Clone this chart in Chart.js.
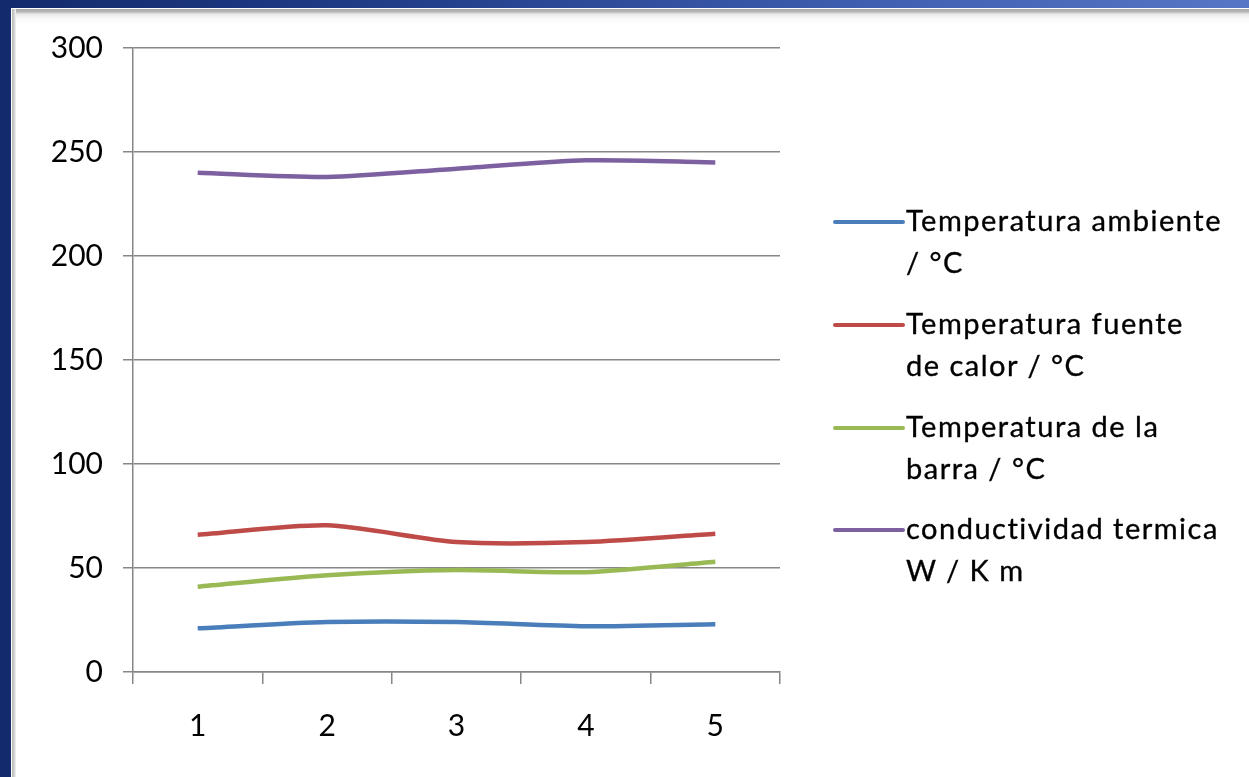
<!DOCTYPE html>
<html>
<head>
<meta charset="utf-8">
<script src="https://cdn.jsdelivr.net/npm/chart.js@4.4.1/dist/chart.umd.min.js"></script>
<style>
  html, body { margin: 0; padding: 0; }
  body {
    width: 1249px; height: 777px; overflow: hidden; position: relative;
    background: linear-gradient(90deg, #132a6c 0%, #23408c 35%, #3f5fb0 70%, #5676c6 100%);
    font-family: Lato, "Open Sans", sans-serif;
  }
  #panel {
    position: absolute; left: 11px; top: 8px; width: 1238px; height: 769px;
    background: #fff;
  }
  #edgeTop {
    position: absolute; left: 1px; top: 1px; right: 0; height: 16px;
    background: linear-gradient(180deg, #a9a9a9 0px, #b8b8b8 3px, #e9e9e9 5px, #fafafa 10px, #ffffff 16px);
  }
  #edgeLeft {
    position: absolute; left: 1px; top: 1px; bottom: 0; width: 4px;
    background: linear-gradient(90deg, #b5b5b5 0px, #cfcfcf 2px, #f3f3f3 4px);
  }
  #wrap { position: absolute; left: 0; top: 2px; width: 1238px; height: 767px; }
  #legend {
    position: absolute; left: 0; top: 0; width: 1249px; height: 777px; pointer-events: none;
  }
  .item { position: absolute; left: 833px; }
  .swatch { position: absolute; left: 0; width: 72px; height: 4px; border-radius: 2px; }
  .txt {
    position: absolute; left: 73px; white-space: nowrap; color: #000;
    font-family: Lato, sans-serif; font-size: 29px; letter-spacing: 1.5px; line-height: 42px;
    -webkit-text-stroke: 0.35px #000;
  }
</style>
</head>
<body>
<div id="panel">
  <div id="edgeTop"></div>
  <div id="edgeLeft"></div>
  <div id="wrap"><canvas id="c" width="1238" height="767"></canvas></div>
</div>
<div id="legend"></div>
<script>
const categories = ["1", "2", "3", "4", "5"];
const seriesNames = [
  "Temperatura ambiente / °C",
  "Temperatura fuente de calor / °C",
  "Temperatura de la barra / °C",
  "conductividad termica W / K m"
];
const legendLines = [
  ["Temperatura ambiente", "/ °C"],
  ["Temperatura fuente", "de calor / °C"],
  ["Temperatura de la", "barra / °C"],
  ["conductividad termica", "W / K m"]
];
const tempAmbiente = [21, 24, 24, 22, 23];
const tempFuente = [66, 70.5, 62.5, 62.5, 66.5];
const tempBarra = [41, 46.5, 49, 48, 53];
const conductividad = [240, 238, 242, 246, 245];
const yTicks = [0, 50, 100, 150, 200, 250, 300];
const colors = ["#4a7ebb", "#be4b48", "#98b954", "#7d60a0"];

const seriesValues = [tempAmbiente, tempFuente, tempBarra, conductividad];

const datasets = seriesValues.map((vals, i) => ({
  label: seriesNames[i],
  data: vals,
  borderColor: colors[i],
  backgroundColor: colors[i],
  borderWidth: 4.5,
  pointRadius: 0,
  tension: 0.25,
  fill: false
}));

const gridColor = "#868686";

const chart = new Chart(document.getElementById("c"), {
  type: "line",
  data: { labels: categories, datasets },
  options: {
    responsive: false,
    animation: false,
    devicePixelRatio: 1,
    layout: { padding: { top: 38, right: 469, left: 0, bottom: 0 } },
    plugins: { legend: { display: false }, tooltip: { enabled: false } },
    scales: {
      x: {
        type: "category",
        offset: true,
        grid: {
          offset: true, drawOnChartArea: false, drawTicks: true,
          tickLength: 12, color: gridColor, lineWidth: 1.5
        },
        border: { color: gridColor, width: 1.5 },
        ticks: {
          color: "#000", padding: 24,
          font: { family: "Lato", size: 30 }
        },
        afterFit: s => { s.height = 105; }
      },
      y: {
        min: 0, max: 300,
        afterBuildTicks: s => { s.ticks = yTicks.map(v => ({ value: v })); },
        grid: {
          color: gridColor, lineWidth: 1.5, drawTicks: true, tickLength: 10
        },
        border: { color: gridColor, width: 1.5 },
        ticks: {
          color: "#000", padding: 20,
          font: { family: "Lato", size: 30 }
        },
        afterFit: s => { s.width = 122; }
      }
    }
  }
});

// HTML legend built from the chart datasets
const legend = document.getElementById("legend");
const firstLineY = [222, 325, 428, 530];
chart.data.datasets.forEach((ds, i) => {
  const item = document.createElement("div");
  item.className = "item";
  item.style.top = firstLineY[i] + "px";
  const sw = document.createElement("div");
  sw.className = "swatch";
  sw.style.top = "-2px";
  sw.style.background = ds.borderColor;
  const tx = document.createElement("div");
  tx.className = "txt";
  tx.style.top = "-23px";
  tx.innerHTML = legendLines[i].map(l => l.replace(/&/g, "&amp;")).join("<br>");
  item.appendChild(sw);
  item.appendChild(tx);
  legend.appendChild(item);
});
</script>
</body>
</html>
